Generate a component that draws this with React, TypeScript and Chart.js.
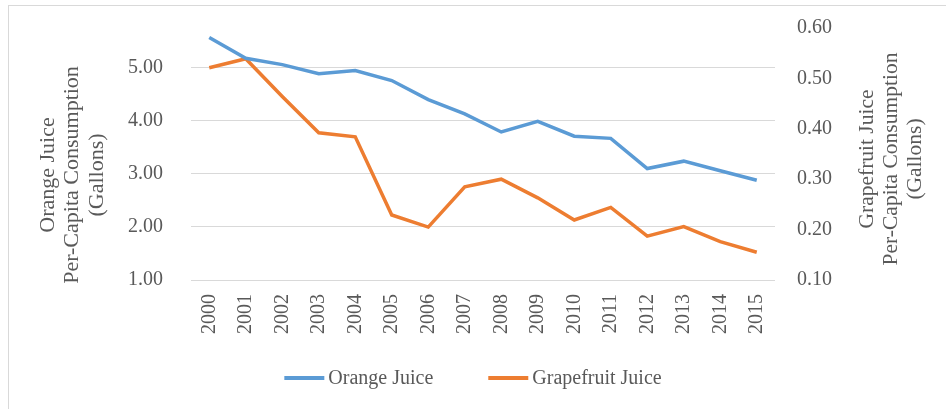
import React, { useEffect, useRef } from "react";
import { Chart, registerables } from "chart.js";

Chart.register(...registerables);

const years = ["2000","2001","2002","2003","2004","2005","2006","2007","2008","2009","2010","2011","2012","2013","2014","2015"];
const orangeJuice = [5.57, 5.18, 5.06, 4.89, 4.95, 4.76, 4.40, 4.13, 3.79, 3.99, 3.71, 3.67, 3.10, 3.24, 3.06, 2.88];
const grapefruitJuice = [0.521, 0.539, 0.464, 0.392, 0.384, 0.229, 0.205, 0.285, 0.300, 0.263, 0.219, 0.244, 0.187, 0.206, 0.176, 0.155];
const leftTitle = ["Orange Juice", "Per-Capita Consumption", "(Gallons)"];
const rightTitle = ["Grapefruit Juice", "Per-Capita Consumption", "(Gallons)"];
const seriesNames = ["Orange Juice", "Grapefruit Juice"];
const BLUE = "#5B9BD5";
const ORANGE = "#ED7D31";
const TEXT = "#595959";
const GRID = "#D9D9D9";
const FONT = '"Liberation Serif", "Times New Roman", serif';

const decorPlugin = {
  id: "decor",
  afterDraw(chart: any) {
    const { ctx, chartArea } = chart;
    ctx.save();
    ctx.fillStyle = TEXT;
    ctx.textAlign = "center";
    ctx.textBaseline = "middle";
    // left title (reads bottom-to-top)
    ctx.font = `22px ${FONT}`;
    const lcy = (chartArea.top + chartArea.bottom) / 2 + 21;
    const lxs = [chartArea.left - 143, chartArea.left - 119, chartArea.left - 94];
    leftTitle.forEach((t, i) => {
      ctx.save();
      ctx.translate(lxs[i], lcy);
      ctx.rotate(-Math.PI / 2);
      ctx.fillText(t, 0, 0);
      ctx.restore();
    });
    // right title (reads bottom-to-top)
    ctx.font = `21.5px ${FONT}`;
    const rcy = (chartArea.top + chartArea.bottom) / 2 + 5;
    const rxs = [chartArea.right + 92, chartArea.right + 116, chartArea.right + 140];
    rightTitle.forEach((t, i) => {
      ctx.save();
      ctx.translate(rxs[i], rcy);
      ctx.rotate(-Math.PI / 2);
      ctx.fillText(t, 0, 0);
      ctx.restore();
    });
    // legend
    ctx.font = `20px ${FONT}`;
    const colors = [BLUE, ORANGE];
    const lineW = 40, gapT = 4, gapItem = 55;
    const widths = seriesNames.map((n) => ctx.measureText(n).width);
    const total = widths.reduce((a, w) => a + lineW + gapT + w, 0) + gapItem;
    let x = (chart.width - total) / 2;
    const y = chartArea.bottom + 98;
    ctx.textAlign = "left";
    seriesNames.forEach((n, i) => {
      ctx.fillStyle = colors[i];
      ctx.fillRect(x, y - 2, lineW, 4);
      x += lineW + gapT;
      ctx.fillStyle = TEXT;
      ctx.fillText(n, x, y + 1);
      x += widths[i] + gapItem;
    });
    ctx.restore();
  },
};

export default function App() {
  const ref = useRef<HTMLCanvasElement>(null);
  useEffect(() => {
    if (!ref.current) return;
    Chart.defaults.font.family = FONT;
    Chart.defaults.color = TEXT;
    const chart = new Chart(ref.current, {
      type: "line",
      data: {
        labels: years,
        datasets: [
          {
            label: seriesNames[0],
            data: orangeJuice,
            borderColor: BLUE,
            backgroundColor: BLUE,
            borderWidth: 3.5,
            pointRadius: 0,
            tension: 0,
            yAxisID: "y",
          },
          {
            label: seriesNames[1],
            data: grapefruitJuice,
            borderColor: ORANGE,
            backgroundColor: ORANGE,
            borderWidth: 3.5,
            pointRadius: 0,
            tension: 0,
            yAxisID: "y1",
          },
        ],
      },
      plugins: [decorPlugin],
      options: {
        animation: false,
        responsive: false,
        maintainAspectRatio: false,
        layout: { padding: { top: 28, left: 0, right: 0, bottom: 0 } },
        plugins: {
          legend: { display: false },
          tooltip: { enabled: false },
          title: { display: false },
        },
        scales: {
          x: {
            offset: true,
            grid: { display: false },
            border: { display: false },
            ticks: {
              minRotation: 90,
              maxRotation: 90,
              autoSkip: false,
              padding: 6,
              color: TEXT,
              font: { size: 20, family: FONT },
            },
            afterFit: (s: any) => { s.height = 129; },
          },
          y: {
            position: "left",
            min: 1,
            max: 5.75,
            grid: { color: GRID, lineWidth: 1, drawTicks: false },
            border: { display: false },
            ticks: {
              stepSize: 1,
              padding: 28,
              color: TEXT,
              font: { size: 20, family: FONT },
              callback: (v: any) => Number(v).toFixed(2),
            },
            afterBuildTicks: (s: any) => {
              s.ticks = s.ticks.filter((t: any) => Math.abs(t.value - Math.round(t.value)) < 1e-6);
            },
            afterFit: (s: any) => { s.width = 191; s.paddingTop = 0; s.paddingBottom = 0; },
          },
          y1: {
            position: "right",
            min: 0.1,
            max: 0.6,
            grid: { display: false, drawTicks: false },
            border: { display: false },
            ticks: {
              stepSize: 0.1,
              padding: 22,
              color: TEXT,
              font: { size: 20, family: FONT },
              callback: (v: any) => Number(v).toFixed(2),
            },
            afterFit: (s: any) => { s.width = 171; s.paddingTop = 0; s.paddingBottom = 0; },
          },
        },
      },
    } as any);
    return () => chart.destroy();
  }, []);

  return (
    <div style={{ position: "fixed", left: 0, top: 0, width: 946, height: 409, background: "#fff", overflow: "hidden" }}>
      <div style={{ position: "absolute", left: 8, top: 5, right: 0, bottom: 0, borderLeft: `1px solid ${GRID}`, borderTop: `1px solid ${GRID}` }} />
      <canvas ref={ref} width={946} height={409} style={{ position: "absolute", left: 0, top: 0, width: 946, height: 409 }} />
    </div>
  );
}
